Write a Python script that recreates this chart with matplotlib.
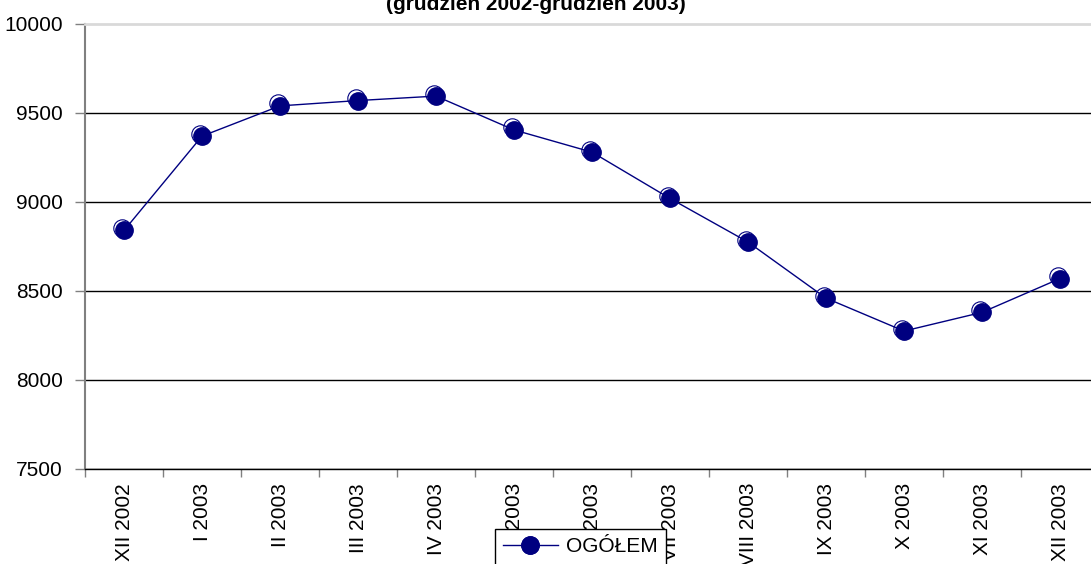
import matplotlib
matplotlib.use("Agg")
import matplotlib.pyplot as plt
from matplotlib.transforms import offset_copy
from matplotlib.lines import Line2D
from matplotlib.legend_handler import HandlerTuple

categories = ["XII 2002", "I 2003", "II 2003", "III 2003", "IV 2003", "V 2003",
              "VI 2003", "VII 2003", "VIII 2003", "IX 2003", "X 2003", "XI 2003",
              "XII 2003"]
values = [8840, 9370, 9540, 9570, 9595, 9405, 9280, 9020, 8775, 8460, 8275, 8380, 8570]
series_name = "OGÓŁEM"
title_visible = "(grudzień 2002-grudzień 2003)"
yticks = [7500, 8000, 8500, 9000, 9500, 10000]

plt.rcParams['font.family'] = ['Liberation Sans', 'DejaVu Sans']

W, H = 1091, 564
fig = plt.figure(figsize=(W / 100, H / 100), dpi=100)
ax = fig.add_axes([85 / W, (H - 469) / H, (1099 - 85) / W, (469 - 24) / H])

navy = "#000080"
x = list(range(len(categories)))
ms = 12.5

shadow_tr = offset_copy(ax.transData, fig=fig, x=-2.5, y=2.5, units='dots')
ax.plot(x, values, linestyle='none', marker='o', markersize=ms,
        markerfacecolor='white', markeredgecolor=navy, markeredgewidth=0.8,
        transform=shadow_tr, zorder=3, clip_on=False)
ax.plot(x, values, color=navy, linewidth=1, marker='o', markersize=ms,
        markerfacecolor=navy, markeredgecolor=navy, zorder=4, clip_on=False)

ax.set_xlim(-0.5, len(categories) - 0.5)
ax.set_ylim(yticks[0], yticks[-1])
ax.set_yticks(yticks)
ax.set_yticklabels([str(t) for t in yticks], fontsize=15)
ax.tick_params(axis='y', direction='out', length=7, width=1, color='#808080', pad=9)

ax.set_xticks([i - 0.5 for i in range(len(categories) + 1)])
ax.set_xticklabels([])
ax.set_xticks(x, minor=True)
ax.set_xticklabels(categories, minor=True, rotation=90, fontsize=15)
ax.tick_params(axis='x', which='major', direction='out', length=6, width=1, color='#808080')
ax.tick_params(axis='x', which='minor', length=0, pad=10)

ax.yaxis.grid(True, color='black', linewidth=1)
ax.set_axisbelow(True)
gl = ax.get_ygridlines()
gl[-1].set_visible(False)

ax.spines['right'].set_visible(False)
ax.spines['top'].set_color('#d9d9d9')
ax.spines['top'].set_linewidth(2)
ax.spines['left'].set_color('#808080')
ax.spines['left'].set_linewidth(1.5)
ax.spines['bottom'].set_color('black')
ax.spines['bottom'].set_linewidth(1)

fig.text(535.5 / W, 1 - 10 / H, title_visible, ha='center', va='baseline',
         fontsize=15, fontweight='bold')

h_shadow = Line2D([], [], linestyle='none', marker='o', markersize=ms,
                  markerfacecolor='white', markeredgecolor=navy, markeredgewidth=0.8)
h_main = Line2D([], [], color=navy, linewidth=1, marker='o', markersize=ms,
                markerfacecolor=navy, markeredgecolor=navy)
leg = fig.legend([(h_shadow, h_main)], [series_name],
                 handler_map={tuple: HandlerTuple(ndivide=1)},
                 loc='upper left', bbox_to_anchor=(495 / W, 1 - 529 / H),
                 borderaxespad=0, frameon=True, fancybox=False, fontsize=15,
                 handlelength=2.6, handletextpad=0.4, borderpad=0.4,
                 framealpha=1)
leg.get_frame().set_edgecolor('black')
leg.get_frame().set_linewidth(1)

fig.savefig("out.png", dpi=100)
